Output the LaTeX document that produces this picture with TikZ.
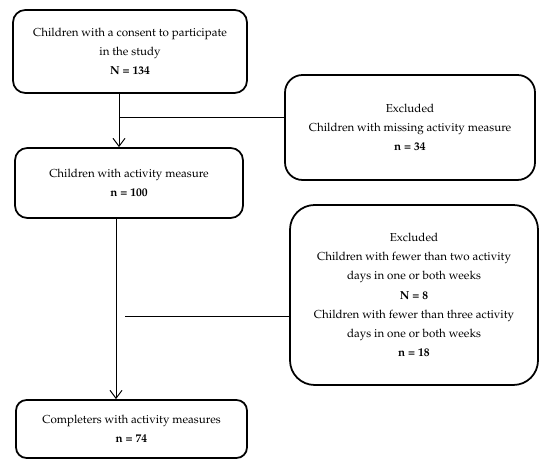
\documentclass[tikz,border=0pt]{standalone}
\usepackage[T1]{fontenc}
\usepackage{mathpazo}
\usepackage{tikz}
\usetikzlibrary{positioning,arrows.meta}

\begin{document}
\begin{tikzpicture}[every node/.style={font=\fontsize{6.6}{10.9}\selectfont},
  flowbox/.style={draw, line width=1pt, align=center, inner sep=0pt},
  flowline/.style={line width=0.55pt}]

\useasboundingbox (0,0) rectangle (11,9.28);

\node[flowbox, rounded corners=7pt, minimum width=4.68cm, minimum height=1.66cm] (C1) at (2.6,8.25)
  {Children with a consent to participate\\ in the study\\ \textbf{N = 134}};

\node[flowbox, rounded corners=10pt, minimum width=5cm, minimum height=2.1cm] (E1) at (8.2,6.73)
  {Excluded\\ Children with missing activity measure\\ \textbf{n = 34}};

\node[flowbox, rounded corners=7pt, minimum width=4.56cm, minimum height=1.4cm] (C2) at (2.58,5.62)
  {Children with activity measure\\ \textbf{n = 100}};

\node[flowbox, rounded corners=14pt, minimum width=4.96cm, minimum height=3.6cm] (E2) at (8.28,3.38)
  {Excluded\\ Children with fewer than two activity\\ days in one or both weeks\\ \textbf{N = 8}\\
   Children with fewer than three activity\\ days in one or both weeks\\ \textbf{n = 18}};

\node[flowbox, rounded corners=6pt, minimum width=4.62cm, minimum height=1.16cm] (C3) at (2.63,0.7)
  {Completers with activity measures\\ \textbf{n = 74}};

\coordinate (J1) at (2.38,6.94);
\coordinate (J2) at (2.5,2.96);

\draw[flowline, -{Straight Barb[length=1.6mm, width=2.4mm]}] (J1 |- C1.south) -- (J1 |- C2.north);
\draw[flowline] (J1) -- (J1 -| E1.west);

\draw[flowline, -{Straight Barb[length=1.6mm, width=2.4mm]}] ([xshift=-0.26cm]C2.south) -- ([xshift=-0.26cm]C2.south |- C3.north);
\draw[flowline] (J2) -- (J2 -| E2.west);
\end{tikzpicture}
\end{document}
